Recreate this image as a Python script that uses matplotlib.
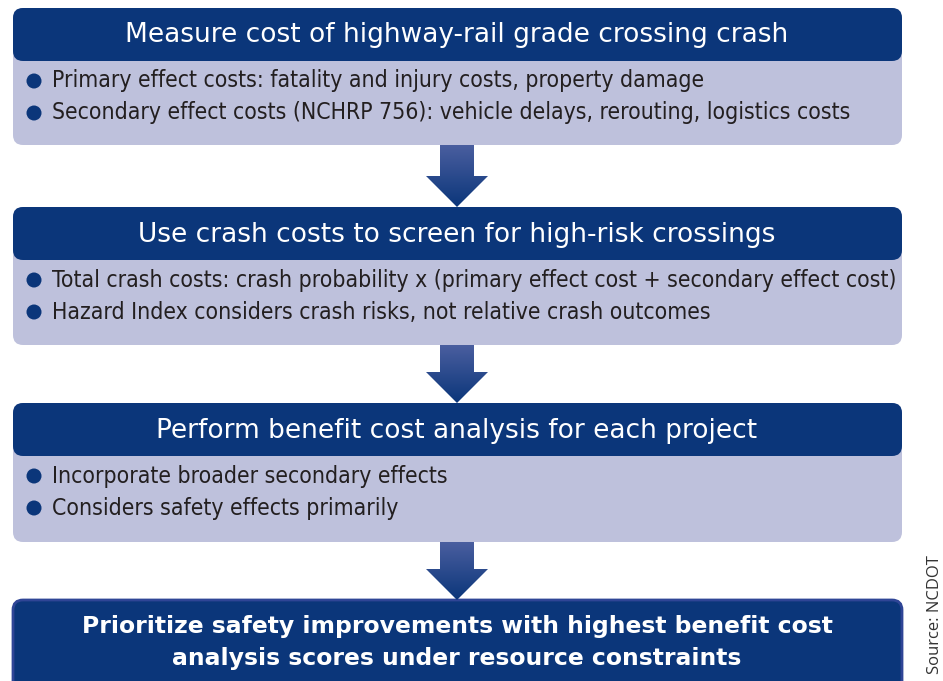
import numpy as np
import matplotlib.pyplot as plt
from matplotlib.patches import FancyBboxPatch, Polygon, Circle

# flowchart content
headers = [
    "Measure cost of highway-rail grade crossing crash",
    "Use crash costs to screen for high-risk crossings",
    "Perform benefit cost analysis for each project",
]
bullets = [
    ["Primary effect costs: fatality and injury costs, property damage",
     "Secondary effect costs (NCHRP 756): vehicle delays, rerouting, logistics costs"],
    ["Total crash costs: crash probability x (primary effect cost + secondary effect cost)",
     "Hazard Index considers crash risks, not relative crash outcomes"],
    ["Incorporate broader secondary effects",
     "Considers safety effects primarily"],
]
final_lines = ["Prioritize safety improvements with highest benefit cost",
               "analysis scores under resource constraints"]
source = "Source: NCDOT"

# layout in pixels (top, header bottom, body bottom)
box_tops = [8, 207, 403]
head_bots = [61, 260, 456]
body_bots = [145, 345, 542]
final_top = 600
left, right = 13, 902
mid_x = 457

NAVY = "#0b367a"
LAVENDER = "#bec1dc"
TEXT = "#231f20"

fig = plt.figure(figsize=(9.43, 6.81), dpi=100)
ax = fig.add_axes([0, 0, 1, 1])
ax.set_xlim(0, 943)
ax.set_ylim(681, 0)
ax.axis("off")


def rbox(x0, y0, x1, y1, color, r=10, **kw):
    p = FancyBboxPatch((x0 + r, y0 + r), x1 - x0 - 2 * r, y1 - y0 - 2 * r,
                       boxstyle="round,pad=%d" % r, fc=color, ec="none",
                       mutation_aspect=1, **kw)
    ax.add_patch(p)
    return p


def arrow(y_top, y_tip):
    head = 31
    pts = [(mid_x - 17, y_top), (mid_x + 17, y_top), (mid_x + 17, y_tip - head),
           (mid_x + 31, y_tip - head), (mid_x, y_tip), (mid_x - 31, y_tip - head),
           (mid_x - 17, y_tip - head)]
    poly = Polygon(pts, closed=True, fc="none", ec="none")
    ax.add_patch(poly)
    grad = np.linspace(0, 1, 100).reshape(-1, 1)
    cmap = plt.matplotlib.colors.LinearSegmentedColormap.from_list(
        "arr", ["#4a5e9f", NAVY])
    im = ax.imshow(grad, cmap=cmap, aspect="auto",
                   extent=(mid_x - 32, mid_x + 32, y_tip, y_top), zorder=2)
    im.set_clip_path(poly)


for i in range(3):
    rbox(left, box_tops[i], right, body_bots[i], LAVENDER)
    rbox(left, box_tops[i], right, head_bots[i], NAVY)
    ax.text(mid_x, (box_tops[i] + head_bots[i]) / 2 + 1, headers[i],
            color="white", fontsize=19, family="DejaVu Sans",
            ha="center", va="center")
    for j, line in enumerate(bullets[i]):
        y = head_bots[i] + 20 + j * 32
        ax.add_patch(Circle((34, y), 7.5, fc=NAVY, ec="none"))
        ax.text(52, y, line, color=TEXT, fontsize=16.5, family="DejaVu Sans",
                stretch="condensed", ha="left", va="center")
    next_top = box_tops[i + 1] if i < 2 else final_top
    arrow(body_bots[i], next_top)

fb = rbox(left, final_top, right, 700, NAVY)
fb.set_edgecolor("#2f4596")
fb.set_linewidth(2)
for j, line in enumerate(final_lines):
    ax.text(mid_x, 627 + j * 31, line, color="white", fontsize=16.9,
            family="DejaVu Sans", weight="bold", ha="center", va="center")

ax.text(935, 615, source, rotation=90, color="#333333", fontsize=12,
        family="Open Sans", ha="center", va="center")

fig.savefig("out.png", dpi=100)
